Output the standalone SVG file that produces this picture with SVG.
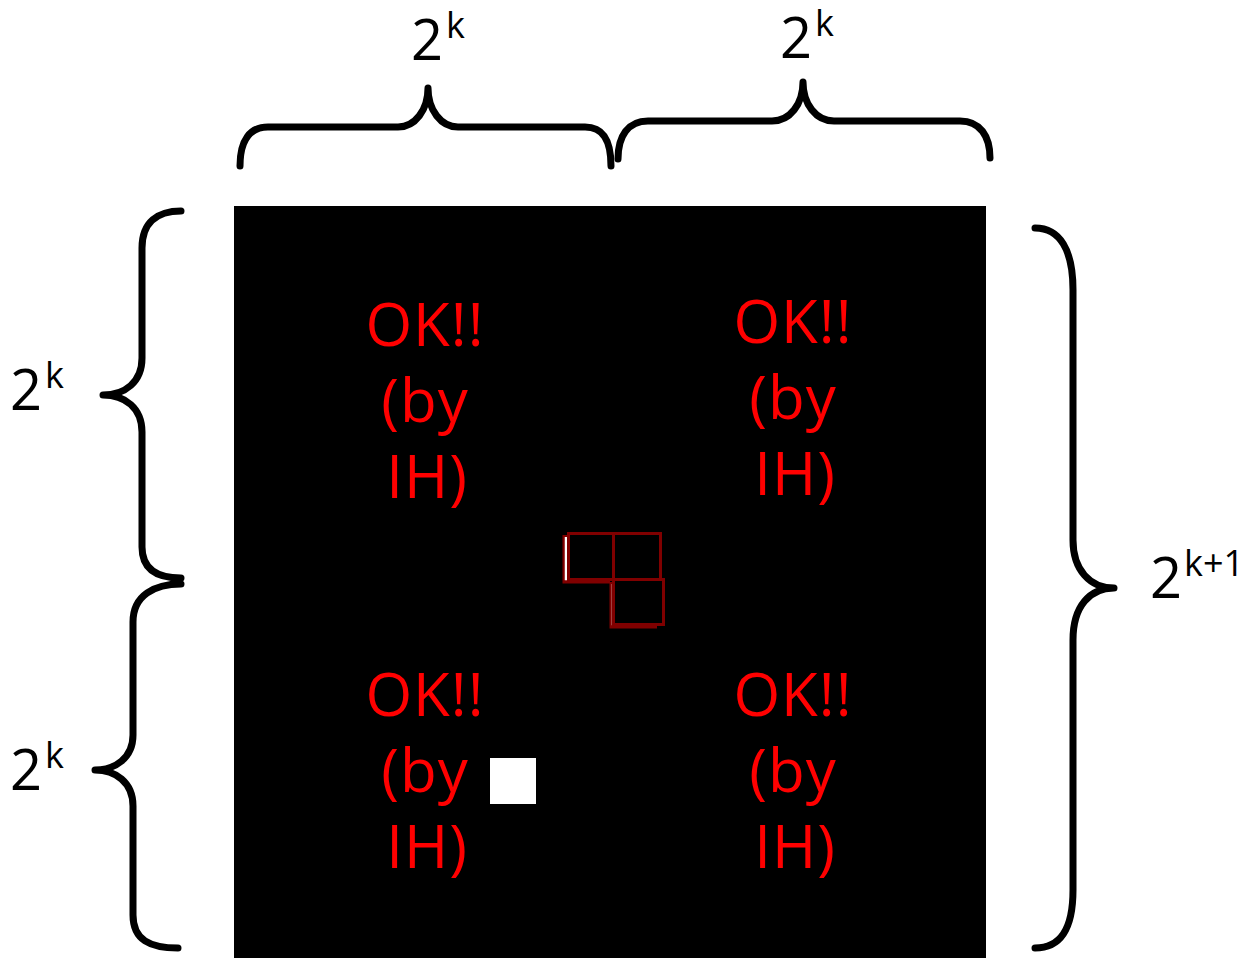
<svg xmlns="http://www.w3.org/2000/svg" width="1257" height="961" viewBox="0 0 1257 961">
  <style>
    .brace { fill: none; stroke: #000; stroke-width: 7; stroke-linecap: round; stroke-linejoin: round; }
    .dim { font-family: "Comic Sans MS", "Open Sans", "DejaVu Sans", sans-serif; fill: #000; font-size: 56px; }
    .sup { font-size: 36px; }
    .ok { font-family: "Comic Sans MS", "Open Sans", "DejaVu Sans", sans-serif; fill: #ff0000; font-size: 60px; text-anchor: middle; letter-spacing: 1px; }
    .cell { fill: #000; stroke: #800000; stroke-width: 3; }
    .shade { fill: none; stroke: #800000; stroke-width: 5; }
    .glint { fill: none; stroke: #ffffff; stroke-width: 2.5; }
  </style>

  <rect width="1257" height="961" fill="#fff"/>

  <!-- board -->
  <g id="board">
    <rect x="234" y="206" width="752" height="752" fill="#000"/>
    <rect x="490" y="758" width="46" height="46" fill="#fff"/>
  </g>

  <!-- quadrant labels -->
  <g id="q-top-left">
    <text class="ok" x="425" y="346">OK!!</text>
    <text class="ok" x="425" y="422">(by</text>
    <text class="ok" x="427" y="498" letter-spacing="4">IH)</text>
  </g>
  <g id="q-top-right">
    <text class="ok" x="793" y="343">OK!!</text>
    <text class="ok" x="793" y="419">(by</text>
    <text class="ok" x="795" y="495" letter-spacing="4">IH)</text>
  </g>
  <g id="q-bottom-left">
    <text class="ok" x="425" y="716">OK!!</text>
    <text class="ok" x="425" y="792">(by</text>
    <text class="ok" x="427" y="868" letter-spacing="4">IH)</text>
  </g>
  <g id="q-bottom-right">
    <text class="ok" x="793" y="716">OK!!</text>
    <text class="ok" x="793" y="792">(by</text>
    <text class="ok" x="795" y="868" letter-spacing="4">IH)</text>
  </g>

  <!-- central L-tromino -->
  <g id="tromino">
    <path class="shade" d="M565,535 V581 H610"/>
    <path class="glint" d="M566,537 V579 H606"/>
    <path class="shade" d="M612,582 V626 H657"/>
    <path class="glint" d="M613,584 V624 H654"/>
    <rect class="cell" x="568.5" y="533.5" width="45" height="46"/>
    <rect class="cell" x="613.5" y="533.5" width="47" height="46"/>
    <rect class="cell" x="613.5" y="579.5" width="50" height="45"/>
  </g>

  <!-- dimension braces -->
  <g id="braces">
    <path class="brace" d="M240,166 C240,140 250,127 268,127 H398 C415,127 428,110 428,88 C428,110 441,127 458,127 H585 C603,127 611,140 611,166"/>
    <path class="brace" d="M618,159 C618,136 628,121 648,121 H772 C790,121 803,104 803,82 C803,104 816,121 834,121 H960 C980,121 990,136 990,158"/>
    <path class="brace" d="M181,211 C158,211 142,222 142,248 V358 C142,382 125,395 103,395 C125,395 142,408 142,432 V547 C142,570 158,578 181,578"/>
    <path class="brace" d="M181,584 C155,584 133,595 133,622 V735 C133,758 115,770 95,770 C115,770 133,782 133,806 V915 C133,940 150,948 178,948"/>
    <path class="brace" d="M1035,228 C1060,228 1073,250 1073,290 V540 C1073,570 1090,588 1114,588 C1090,588 1073,606 1073,640 V890 C1073,930 1060,948 1035,948"/>
  </g>

  <!-- dimension labels -->
  <g id="dim-top-left"><text class="dim" x="411" y="60">2<tspan class="sup" dx="3" dy="-22">k</tspan></text></g>
  <g id="dim-top-right"><text class="dim" x="780" y="58">2<tspan class="sup" dx="3" dy="-22">k</tspan></text></g>
  <g id="dim-left-upper"><text class="dim" x="10" y="410">2<tspan class="sup" dx="3" dy="-22">k</tspan></text></g>
  <g id="dim-left-lower"><text class="dim" x="10" y="790">2<tspan class="sup" dx="3" dy="-22">k</tspan></text></g>
  <g id="dim-right"><text class="dim" x="1150" y="598">2<tspan class="sup" dx="2" dy="-22">k+1</tspan></text></g>
</svg>
